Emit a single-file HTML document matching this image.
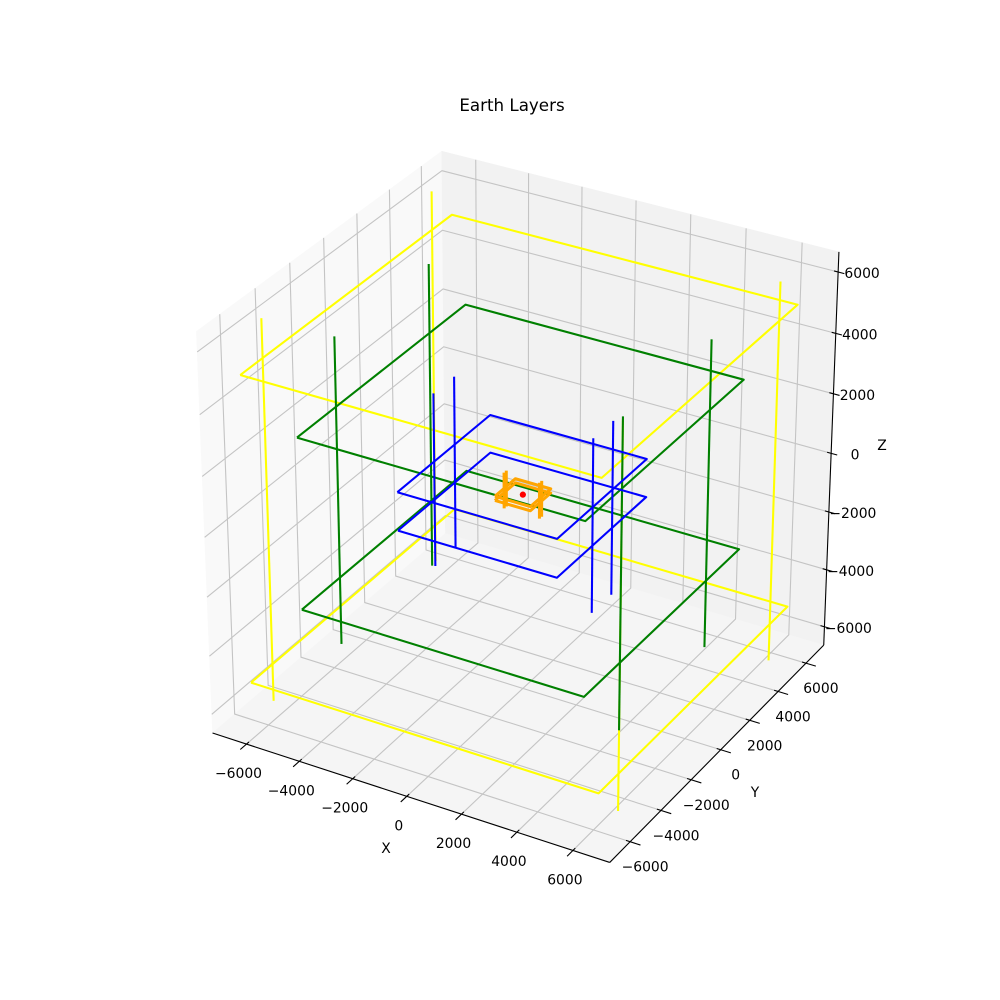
<!DOCTYPE html>
<html><head><meta charset="utf-8"><title>Earth Layers</title>
<style>
html,body{margin:0;padding:0;background:#fff;}
svg{display:block;font-family:"DejaVu Sans","Liberation Sans",sans-serif;}
</style></head>
<body>
<svg id="chart" width="1000" height="1000" viewBox="0 0 1000 1000">
  <text x="512" y="111" text-anchor="middle" font-size="16.7" fill="#000">Earth Layers</text>
  <g id="panes"></g>
  <g id="grid"></g>
  <g id="axes"></g>
  <g id="series"></g>
  <text x="386" y="853" text-anchor="middle" font-size="13.9">X</text>
  <text x="755" y="797" text-anchor="middle" font-size="13.9">Y</text>
  <text x="882" y="450" text-anchor="middle" font-size="13.9">Z</text>
</svg>
<script>
// ---- chart data ----
const layerNames = ["crust", "mantle", "outer-core", "inner-core"];
const layerColors = ["#ffff00", "#008000", "#0000ff", "#ffa500"];
const layerRadii = [6371, 5150, 2900, 650];
const layerInner = [5100, 2860, 640, 70];
const layerLineHeight = [6371, 5150, 2900, 600];
const layerWidths = [2.08, 2.08, 2.08, 3];
const centerPoint = [0, 0, 0];
const xTicks = [-6000, -4000, -2000, 0, 2000, 4000, 6000];
const yTicks = [-6000, -4000, -2000, 0, 2000, 4000, 6000];
const zTicks = [-6000, -4000, -2000, 0, 2000, 4000, 6000];
const xLim = [-7300, 7300];
const yLim = [-7300, 7300];
const zLim = [-6650, 6650];

// ---- 3D projection (cube box, elev 30, azim -60, dist 10) ----
const NS = "http://www.w3.org/2000/svg";
const ba = [1, 1, 1];
const elev = 30 * Math.PI / 180, azim = -60 * Math.PI / 180, dist = 10;
const ps = [Math.cos(elev) * Math.cos(azim), Math.cos(elev) * Math.sin(azim), Math.sin(elev)];
const Rc = [ba[0] / 2, ba[1] / 2, ba[2] / 2];
const eye = [Rc[0] + dist * ps[0], Rc[1] + dist * ps[1], Rc[2] + dist * ps[2]];
const wv = ps.slice();
let uv = [-wv[1], wv[0], 0];
const un = Math.hypot(uv[0], uv[1]); uv = [uv[0] / un, uv[1] / un, 0];
const vv = [wv[1] * uv[2] - wv[2] * uv[1], wv[2] * uv[0] - wv[0] * uv[2], wv[0] * uv[1] - wv[1] * uv[0]];
function raw(x, y, z) {
  const p = [(x - xLim[0]) / (xLim[1] - xLim[0]) * ba[0],
             (y - yLim[0]) / (yLim[1] - yLim[0]) * ba[1],
             (z - zLim[0]) / (zLim[1] - zLim[0]) * ba[2]];
  const d = [p[0] - eye[0], p[1] - eye[1], p[2] - eye[2]];
  const xv = uv[0] * d[0] + uv[1] * d[1] + uv[2] * d[2];
  const yv = vv[0] * d[0] + vv[1] * d[1] + vv[2] * d[2];
  const zv = wv[0] * d[0] + wv[1] * d[1] + wv[2] * d[2];
  return [xv / -zv, yv / -zv];
}
const calib = [
  [[xLim[0], yLim[0], zLim[0]], [212, 732]],
  [[xLim[1], yLim[0], zLim[0]], [610, 863]],
  [[xLim[1], yLim[1], zLim[0]], [823, 646]],
  [[xLim[0], yLim[0], zLim[1]], [196, 330]],
  [[xLim[1], yLim[1], zLim[1]], [839, 252]],
  [[xLim[0], yLim[1], zLim[1]], [443, 152]]
];
function fit(idx) {
  let n = 0, sx = 0, sy = 0, sxx = 0, sxy = 0;
  calib.forEach(c => {
    const r = raw(...c[0])[idx], s = c[1][idx];
    n++; sx += r; sy += s; sxx += r * r; sxy += r * s;
  });
  const a = (n * sxy - sx * sy) / (n * sxx - sx * sx);
  return [a, (sy - a * sx) / n];
}
const fx = fit(0), fy = fit(1);
function P(x, y, z) { const r = raw(x, y, z); return [fx[1] + fx[0] * r[0], fy[1] + fy[0] * r[1]]; }

function line(g, pts, color, w, name) {
  const el = document.createElementNS(NS, "polyline");
  el.setAttribute("points", pts.map(p => p[0].toFixed(2) + "," + p[1].toFixed(2)).join(" "));
  el.setAttribute("fill", "none");
  el.setAttribute("stroke", color);
  el.setAttribute("stroke-width", w);
  el.setAttribute("stroke-linejoin", "round");
  
  
  g.appendChild(el);
  return el;
}
function poly(g, pts, fill, name) {
  const el = document.createElementNS(NS, "polygon");
  el.setAttribute("points", pts.map(p => p[0].toFixed(2) + "," + p[1].toFixed(2)).join(" "));
  el.setAttribute("fill", fill);
  el.setAttribute("stroke", fill);
  el.setAttribute("stroke-width", "0.5");
  
  
  g.appendChild(el);
}
function text(g, x, y, s, name, anchor) {
  const el = document.createElementNS(NS, "text");
  el.setAttribute("x", x.toFixed(1));
  el.setAttribute("y", y.toFixed(1));
  el.setAttribute("font-size", "13.9");
  el.setAttribute("text-anchor", anchor || "middle");
  el.setAttribute("dominant-baseline", "central");
  el.textContent = s;
  
  
  g.appendChild(el);
}
const fmt = v => (v < 0 ? "\u2212" + Math.abs(v) : String(v));

const [x0, x1] = xLim, [y0, y1] = yLim, [z0, z1] = zLim;
const gp = document.getElementById("panes");
poly(gp, [P(x0, y0, z0), P(x0, y1, z0), P(x0, y1, z1), P(x0, y0, z1)], "#f9f9f9", "left-pane");
poly(gp, [P(x0, y1, z0), P(x1, y1, z0), P(x1, y1, z1), P(x0, y1, z1)], "#f2f2f2", "back-pane");
poly(gp, [P(x0, y0, z0), P(x1, y0, z0), P(x1, y1, z0), P(x0, y1, z0)], "#f5f5f5", "floor-pane");

const gg = document.getElementById("grid");
const gc = "#c4c4c4", gw = 1.1;
xTicks.forEach(t => {
  line(gg, [P(t, y0, z0), P(t, y1, z0), P(t, y1, z1)], gc, gw, "x-grid-line");
});
yTicks.forEach(t => {
  line(gg, [P(x1, t, z0), P(x0, t, z0), P(x0, t, z1)], gc, gw, "y-grid-line");
});
zTicks.forEach(t => {
  line(gg, [P(x0, y0, t), P(x0, y1, t), P(x1, y1, t)], gc, gw, "z-grid-line");
});

const ga = document.getElementById("axes");
line(ga, [P(x0, y0, z0), P(x1, y0, z0)], "#000", 1.1, "x-axis-line");
line(ga, [P(x1, y0, z0), P(x1, y1, z0)], "#000", 1.1, "y-axis-line");
line(ga, [P(x1, y1, z0), P(x1, y1, z1)], "#000", 1.1, "z-axis-line");
const dX = (x1 - x0) * 0.025, dY = (y1 - y0) * 0.025;
xTicks.forEach(t => {
  line(ga, [P(t, y0 + dY * 0.4, z0), P(t, y0 - dY, z0)], "#000", 1.1, "x-tick");
  const p = P(t, y0, z0);
  text(ga, p[0] - 8, p[1] + 30, fmt(t), "x-tick-label");
});
yTicks.forEach(t => {
  line(ga, [P(x1 - dX * 0.4, t, z0), P(x1 + dX, t, z0)], "#000", 1.1, "y-tick");
  const p = P(x1, t, z0);
  text(ga, p[0] + 15, p[1] + 26, fmt(t), "y-tick-label");
});
zTicks.forEach(t => {
  line(ga, [P(x1 - dX * 0.4, y1, t), P(x1 + dX * 0.6, y1, t)], "#000", 1.1, "z-tick");
  const p = P(x1, y1, t);
  text(ga, p[0] + 24, p[1] + 2, fmt(t), "z-tick-label");
});

const gs = document.getElementById("series");
layerRadii.forEach((r, i) => {
  const ri = layerInner[i], h = layerLineHeight[i], c = layerColors[i], w = layerWidths[i];
  [ri, -ri].forEach(zz => {
    line(gs, [P(-r, -r, zz), P(r, -r, zz), P(r, r, zz), P(-r, r, zz), P(-r, -r, zz)], c, w, layerNames[i] + "-square");
  });
  [[-r, -ri], [-r, ri], [r, -ri], [r, ri]].forEach(xy => {
    line(gs, [P(xy[0], xy[1], -h), P(xy[0], xy[1], h)], c, w, layerNames[i] + "-vertical-line");
  });
});
const cp = P(centerPoint[0], centerPoint[1], centerPoint[2]);
const dot = document.createElementNS(NS, "circle");
dot.setAttribute("cx", cp[0]); dot.setAttribute("cy", cp[1]); dot.setAttribute("r", 3.1);
dot.setAttribute("fill", "#ff0000");


gs.appendChild(dot);
</script>
</body></html>
